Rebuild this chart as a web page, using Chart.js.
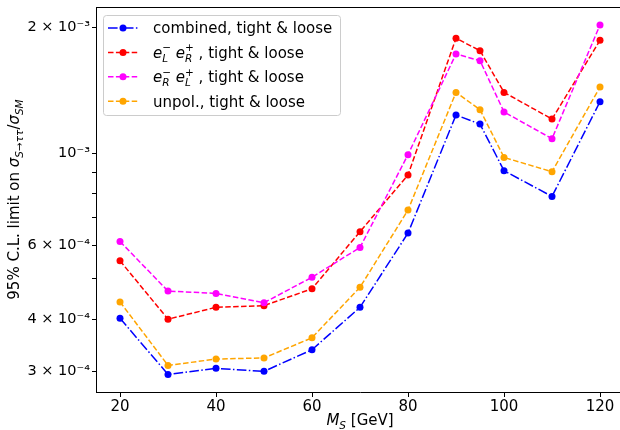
<!DOCTYPE html>
<html>
<head>
<meta charset="utf-8">
<script src="https://cdn.jsdelivr.net/npm/chart.js@4"></script>
<style>
  html, body { margin: 0; padding: 0; background: #fff; overflow: hidden; }
  canvas { display: block; }
</style>
</head>
<body>
<canvas id="limitChart" width="636" height="430"></canvas>
<script>
// dati
const masses = [20, 30, 40, 50, 60, 70, 80, 90, 95, 100, 110, 120];
const combined = [4.02e-4, 2.95e-4, 3.05e-4, 3.00e-4, 3.38e-4, 4.27e-4, 6.43e-4, 1.233e-3, 1.173e-3, 9.07e-4, 7.87e-4, 1.327e-3];
const eLeR = [5.52e-4, 4.00e-4, 4.27e-4, 4.31e-4, 4.73e-4, 6.48e-4, 8.86e-4, 1.883e-3, 1.758e-3, 1.397e-3, 1.206e-3, 1.862e-3];
const eReL = [6.14e-4, 4.67e-4, 4.61e-4, 4.38e-4, 5.04e-4, 5.94e-4, 9.91e-4, 1.726e-3, 1.664e-3, 1.254e-3, 1.082e-3, 2.026e-3];
const unpol = [4.40e-4, 3.10e-4, 3.21e-4, 3.23e-4, 3.61e-4, 4.77e-4, 7.30e-4, 1.397e-3, 1.270e-3, 9.76e-4, 9.02e-4, 1.439e-3];

const xTicks = [20, 40, 60, 80, 100, 120];
const yTicks = [3e-4, 4e-4, 5e-4, 6e-4, 7e-4, 8e-4, 9e-4, 1e-3, 2e-3];
const yTickLabels = ['3 × 10⁻⁴', '4 × 10⁻⁴', '', '6 × 10⁻⁴', '', '', '', '10⁻³', '2 × 10⁻³'];

const FONT = '"DejaVu Sans", sans-serif';
const F = 15;

// testo con pedici / apici (stile mathtext)
function rich(ctx, parts, x, y, draw) {
  let cx = 0, px = 0, pw = 0;
  parts.forEach(p => {
    const small = p.sub || p.sup;
    const size = small ? F * 0.7 : F;
    ctx.font = (p.i ? 'italic ' : '') + size + 'px ' + FONT;
    const w = ctx.measureText(p.t).width;
    const dx = p.stack ? px : cx;
    const dy = p.sub ? F * 0.27 : (p.sup ? -F * 0.42 : 0);
    if (draw) ctx.fillText(p.t, x + dx, y + dy);
    if (p.stack) {
      cx = px + Math.max(pw, w);
    } else {
      px = cx; pw = w; cx += w;
    }
  });
  return cx;
}

const legendItems = [
  { color: '#0000ff', dash: [9.6, 2.4, 1.5, 2.4], parts: [{ t: 'combined, tight & loose' }] },
  { color: '#ff0000', dash: [5.5, 2.4], parts: [
    { t: 'e', i: 1 }, { t: 'L', i: 1, sub: 1 }, { t: '−', sup: 1, stack: 1 }, { t: ' ' },
    { t: 'e', i: 1 }, { t: 'R', i: 1, sub: 1 }, { t: '+', sup: 1, stack: 1 }, { t: ' , tight & loose' }] },
  { color: '#ff00ff', dash: [5.5, 2.4], parts: [
    { t: 'e', i: 1 }, { t: 'R', i: 1, sub: 1 }, { t: '−', sup: 1, stack: 1 }, { t: ' ' },
    { t: 'e', i: 1 }, { t: 'L', i: 1, sub: 1 }, { t: '+', sup: 1, stack: 1 }, { t: ' , tight & loose' }] },
  { color: '#ffa500', dash: [5.5, 2.4], parts: [{ t: 'unpol., tight & loose' }] }
];

const yLabel = [
  { t: '95% C.L. limit on ' }, { t: 'σ', i: 1 }, { t: 'S', i: 1, sub: 1 }, { t: '→', sub: 1 },
  { t: 'ττ', i: 1, sub: 1 }, { t: '/' }, { t: 'σ', i: 1 }, { t: 'SM', i: 1, sub: 1 }
];
const xLabel = [{ t: 'M', i: 1 }, { t: 'S', i: 1, sub: 1 }, { t: ' [GeV]' }];

const cornice = {
  id: 'cornice',
  afterDraw(chart) {
    const ctx = chart.ctx;
    const a = chart.chartArea;
    ctx.save();
    // bordo superiore degli assi
    ctx.strokeStyle = '#000';
    ctx.lineWidth = 1;
    ctx.beginPath();
    ctx.moveTo(a.left, a.top + 0.5);
    ctx.lineTo(a.right, a.top + 0.5);
    ctx.stroke();

    ctx.fillStyle = '#000';
    ctx.textBaseline = 'alphabetic';
    // etichetta asse x
    const wx = rich(ctx, xLabel, 0, 0, false);
    rich(ctx, xLabel, (a.left + a.right) / 2 - wx / 2, 425, true);
    // etichetta asse y
    ctx.translate(19, (a.top + a.bottom) / 2);
    ctx.rotate(-Math.PI / 2);
    const wy = rich(ctx, yLabel, 0, 0, false);
    rich(ctx, yLabel, -wy / 2, 0, true);
    ctx.setTransform(1, 0, 0, 1, 0, 0);

    // legenda
    const bx = 103.5, by = 15.5, bw = 237, bh = 100;
    ctx.beginPath();
    ctx.roundRect(bx, by, bw, bh, 3);
    ctx.fillStyle = 'rgba(255,255,255,0.8)';
    ctx.fill();
    ctx.strokeStyle = '#cccccc';
    ctx.stroke();
    legendItems.forEach((it, k) => {
      const yc = 28 + k * 24.4;
      ctx.strokeStyle = it.color;
      ctx.lineWidth = 1.5;
      ctx.setLineDash(it.dash);
      ctx.beginPath();
      ctx.moveTo(108, yc);
      ctx.lineTo(138, yc);
      ctx.stroke();
      ctx.setLineDash([]);
      ctx.fillStyle = it.color;
      ctx.beginPath();
      ctx.arc(123, yc, 3.5, 0, Math.PI * 2);
      ctx.fill();
      ctx.fillStyle = '#000';
      rich(ctx, it.parts, 153, yc + 5.3, true);
    });
    ctx.restore();
  }
};

function serie(label, values, color, dash) {
  return {
    label: label,
    data: masses.map((m, i) => ({ x: m, y: values[i] })),
    borderColor: color,
    backgroundColor: color,
    borderWidth: 1.5,
    borderDash: dash,
    pointRadius: 3.5,
    pointBorderWidth: 0,
    pointBackgroundColor: color,
    tension: 0
  };
}

const ctx = document.getElementById('limitChart').getContext('2d');
const chart = new Chart(ctx, {
  type: 'line',
  data: {
    datasets: [
      serie('unpol., tight & loose', unpol, '#ffa500', [5.5, 2.4]),
      serie('eR eL, tight & loose', eReL, '#ff00ff', [5.5, 2.4]),
      serie('eL eR, tight & loose', eLeR, '#ff0000', [5.5, 2.4]),
      serie('combined, tight & loose', combined, '#0000ff', [9.6, 2.4, 1.5, 2.4])
    ]
  },
  options: {
    responsive: false,
    animation: false,
    devicePixelRatio: 1,
    layout: { padding: { top: 7, right: 12, left: 0, bottom: 0 } },
    plugins: { legend: { display: false }, tooltip: { enabled: false } },
    scales: {
      x: {
        type: 'linear',
        min: 15,
        max: 125,
        afterBuildTicks: axis => { axis.ticks = xTicks.map(v => ({ value: v })); },
        afterFit: axis => { axis.height = 38; axis.paddingLeft = 0; axis.paddingRight = 0; },
        grid: { drawOnChartArea: false, drawTicks: true, tickLength: 5, color: '#000' },
        border: { display: true, color: '#000' },
        ticks: { color: '#000', font: { family: FONT, size: F }, padding: 1, maxRotation: 0 }
      },
      y: {
        type: 'logarithmic',
        min: 2.677e-4,
        max: 2.237e-3,
        afterBuildTicks: axis => { axis.ticks = yTicks.map(v => ({ value: v })); },
        afterFit: axis => { axis.width = 96; axis.paddingTop = 0; axis.paddingBottom = 0; },
        grid: { drawOnChartArea: false, drawTicks: true, tickLength: 4, color: '#000' },
        border: { display: true, color: '#000' },
        ticks: {
          color: '#000',
          font: { family: FONT, size: 14.5 },
          padding: 2,
          callback: (v, i) => yTickLabels[i]
        }
      }
    }
  },
  plugins: [cornice]
});
</script>
</body>
</html>
